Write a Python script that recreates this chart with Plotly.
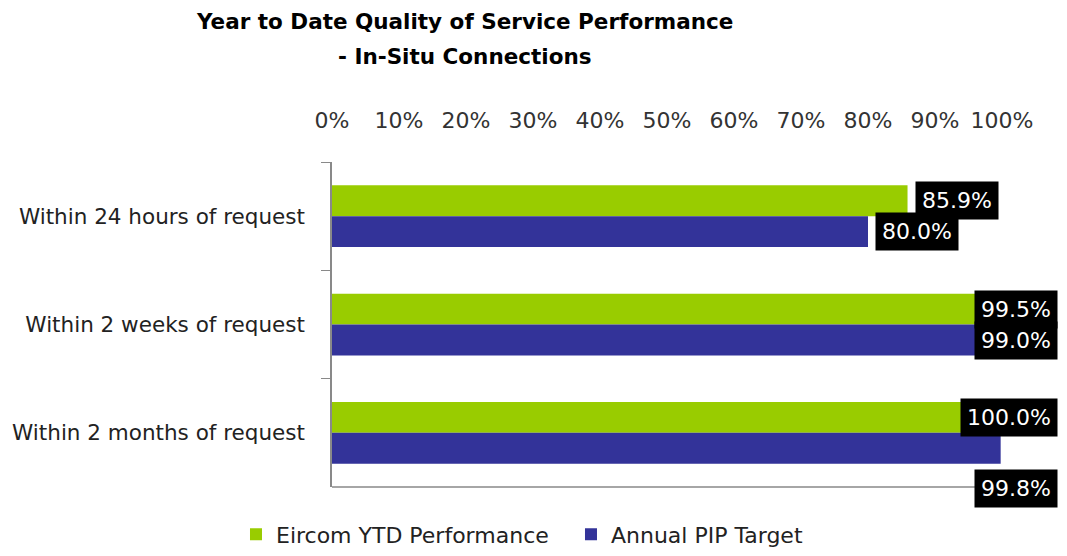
import plotly.graph_objects as go

categories = ["Within 24 hours of request", "Within 2 weeks of request", "Within 2 months of request"]
eircom_ytd = [85.9, 99.5, 100.0]
pip_target = [80.0, 99.0, 99.8]
series_names = ["Eircom YTD Performance", "Annual PIP Target"]
tick_values = [0, 10, 20, 30, 40, 50, 60, 70, 80, 90, 100]
tick_labels = [f"{v}%" for v in tick_values]
title_lines = ["Year to Date Quality of Service Performance", "- In-Situ Connections"]

GREEN = "#99CC00"
BLUE = "#333399"
FONT = "DejaVu Sans"

fig = go.Figure()
fig.add_trace(go.Bar(y=categories, x=eircom_ytd, orientation="h", name=series_names[0],
                     marker=dict(color=GREEN, line=dict(width=0)), hoverinfo="x+y",
                     legend="legend"))
fig.add_trace(go.Bar(y=categories, x=pip_target, orientation="h", name=series_names[1],
                     marker=dict(color=BLUE, line=dict(width=0)), hoverinfo="x+y",
                     legend="legend2"))

annotations = []
half_bar_px = 15.5
for series, sign in ((eircom_ytd, 1), (pip_target, -1)):
    for i, (cat, val) in enumerate(zip(categories, series)):
        clamp = val > 95  # label would run off the chart: pin it to the right edge
        yshift = sign * half_bar_px
        if sign == -1 and i == len(categories) - 1:
            yshift -= 40  # pushed below to avoid overlapping the label above
        ann = dict(
            y=cat, yref="y",
            text=f"{val:.1f}%", showarrow=False,
            yshift=yshift,
            font=dict(family=FONT, size=22, color="white"),
            bgcolor="black", borderpad=6,
        )
        if clamp:
            ann.update(x=1.0836, xref="paper", xanchor="right")
        else:
            ann.update(x=val, xref="x", xanchor="left", xshift=7)
        annotations.append(ann)

for line, ypos in zip(title_lines, (1.4308, 1.3231)):
    annotations.append(dict(x=0.1978, y=ypos, xref="paper", yref="paper", text=f"<b>{line}</b>",
                            showarrow=False, xanchor="center", yanchor="middle",
                            font=dict(family=FONT, size=21.5, color="black")))

legend_common = dict(orientation="h", xanchor="left", y=0.025, yanchor="middle", yref="container",
                     font=dict(family=FONT, size=22, color="#222222"), itemwidth=30,
                     bgcolor="rgba(0,0,0,0)")

fig.update_layout(
    width=1051, height=540,
    margin=dict(l=324, r=57, t=154, b=61, autoexpand=False),
    paper_bgcolor="white", plot_bgcolor="white",
    barmode="group", bargap=0.43, bargroupgap=0,
    showlegend=True,
    legend=dict(x=-0.1433, **legend_common),
    legend2=dict(x=0.3567, **legend_common),
    annotations=annotations,
    shapes=[dict(type="line", xref="paper", yref="paper", x0=0, x1=1, y0=0, y1=0,
                 line=dict(color="#898989", width=1.5))],
    font=dict(family=FONT),
)
fig.update_xaxes(range=[0, 100], side="top", tickvals=tick_values, ticktext=tick_labels,
                 showgrid=False, zeroline=False, showline=False, automargin=False,
                 ticks="outside", ticklen=24, tickcolor="rgba(0,0,0,0)",
                 tickfont=dict(family=FONT, size=22, color="#333333"), fixedrange=True)
fig.update_yaxes(autorange="reversed", type="category", showgrid=False, zeroline=False,
                 showline=True, linecolor="#898989", linewidth=1.5, automargin=False,
                 ticks="outside", ticklen=9, tickcolor="#898989", tickson="boundaries",
                 ticklabelstandoff=21,
                 tickfont=dict(family=FONT, size=21.5, color="#222222"), fixedrange=True)

fig.write_html("out.html")
